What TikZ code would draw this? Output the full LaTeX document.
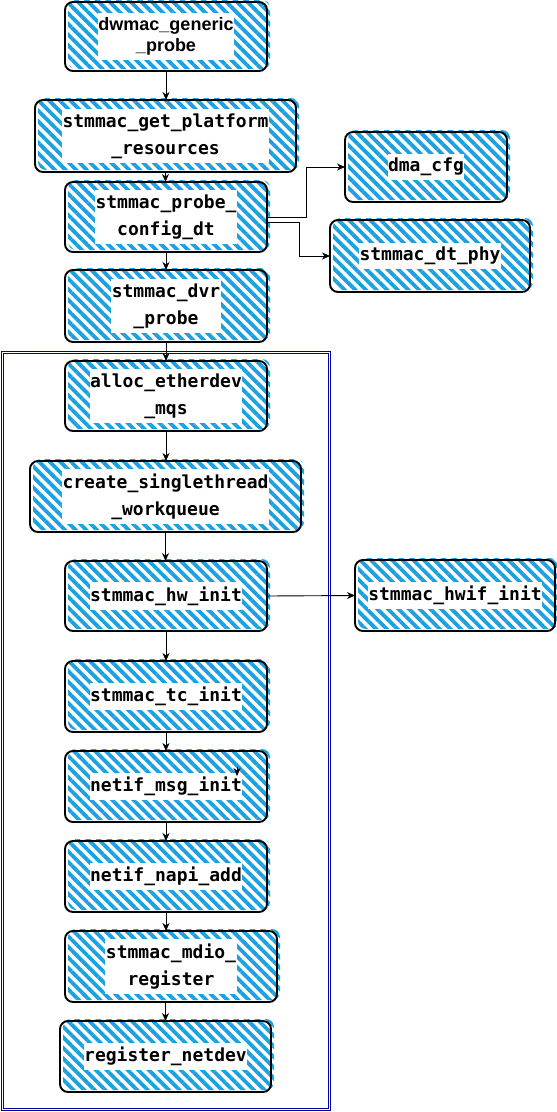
\documentclass[tikz,border=0pt]{standalone}
\usepackage{fontspec}
\setmainfont{Liberation Sans}
\setmonofont{DejaVu Sans Mono}
\usetikzlibrary{patterns.meta,arrows.meta}
\definecolor{hatchblue}{RGB}{27,161,226}
\definecolor{frameblue}{RGB}{0,0,153}
\tikzset{
  hatchfill/.style={pattern={Lines[angle=-45,distance=7.5pt,line width=3.8pt]},pattern color=hatchblue,rounded corners=8pt},
  boxframe/.style={draw=black,line width=1.9pt,rounded corners=8pt,inner sep=0pt,outer sep=0pt},
  labelbg/.style={fill=white,font=\ttfamily\bfseries\fontsize{18}{27}\selectfont,align=center,inner xsep=0.5pt,inner ysep=4.5pt},
  sanslabel/.style={font=\rmfamily\bfseries\fontsize{18}{21}\selectfont},
  arr/.style={draw=black,line width=0.9pt,-{Stealth[length=8pt,width=7pt,inset=2.5pt]}},
  container/.style={draw=frameblue,double=white,double distance=1.4pt,line width=0.9pt}
}
\newcommand\hatchbox[7][]{%
  \fill[hatchfill] (#3+3,#4-2) rectangle (#5+3,#6-2);
  \node[boxframe,minimum width={#5-#3},minimum height={#6-#4}] (#2) at ({(#3+#5)/2},{(#4+#6)/2}) {};
  \node[labelbg,#1] (#2L) at (#2.center) {#7};
}
\begin{document}
\begin{tikzpicture}[x=1pt,y=-1pt]
\useasboundingbox (0,0) rectangle (557,1112);
\fill[white] (0,0) rectangle (557,1112);
% container
\node[container,minimum width=327.5pt,minimum height=757.5pt,inner sep=0pt] (group) at (166,731) {};
% boxes
\hatchbox[sanslabel]{dwmac}{65}{2}{267}{71}{dwmac\_generic\\\_probe}
\hatchbox{plat}{35}{100}{296}{172}{stmmac\_get\_platform\\\_resources}
\hatchbox{cfg}{65}{182}{267}{252}{stmmac\_probe\_\\config\_dt}
\hatchbox{dvr}{65}{270}{267}{342}{stmmac\_dvr\\\_probe}
\hatchbox{dma}{345}{132}{507}{202}{dma\_cfg}
\hatchbox{phy}{330}{220}{530}{292}{stmmac\_dt\_phy}
\hatchbox{alloc}{65}{361}{267}{431}{alloc\_etherdev\\\_mqs}
\hatchbox{wq}{30}{461}{301}{532}{create\_singlethread\\\_workqueue}
\hatchbox{hw}{65}{561}{267}{631}{stmmac\_hw\_init}
\hatchbox{hwif}{355}{560}{555}{631}{stmmac\_hwif\_init}
\hatchbox{tc}{65}{661}{267}{732}{stmmac\_tc\_init}
\hatchbox{msg}{65}{751}{267}{822}{netif\_msg\_init}
\hatchbox{napi}{65}{841}{267}{912}{netif\_napi\_add}
\hatchbox{mdio}{65}{931}{277}{1002}{stmmac\_mdio\_\\register}
\hatchbox{reg}{60}{1021}{271}{1092}{register\_netdev}
% connectors
\draw[arr] (dwmac.south) -- (dwmac.south |- plat.north);
\draw[arr] (plat.south) -- (plat.south |- cfg.north);
\draw[arr] (cfg.south) -- (cfg.south |- dvr.north);
\draw[arr] (dvr.south) -- (dvr.south |- alloc.north);
\draw[arr] (alloc.south) -- (alloc.south |- wq.north);
\draw[arr] (wq.south) -- (wq.south |- hw.north);
\draw[arr] (hw.south) -- (hw.south |- tc.north);
\draw[arr] (tc.south) -- (tc.south |- msg.north);
\draw[arr] (msg.south) -- (msg.south |- napi.north);
\draw[arr] (napi.south) -- (napi.south |- mdio.north);
\draw[arr] (reg.north |- mdio.south) -- (reg.north);
\draw[arr] (cfg.east) -- ++(39,0) |- (dma.west);
\draw[arr] ([yshift=-5pt]cfg.east) -- ++(32,0) |- (phy.west);
\draw[arr] (hw.east) -- (hwif.west);
% stray arrowhead
\coordinate (strayA) at (237,767);
\coordinate (strayB) at (237,776);
\draw[arr] (strayA) -- (strayB);
\end{tikzpicture}
\end{document}
